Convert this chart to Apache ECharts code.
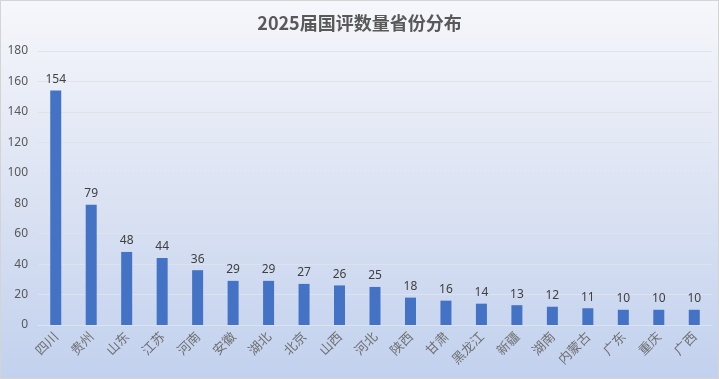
<!DOCTYPE html>
<html>
<head>
<meta charset="utf-8">
<script src="https://cdn.jsdelivr.net/npm/echarts@6/dist/echarts.min.js"></script>
<style>
html,body{margin:0;padding:0;background:#fff;}
#chart{width:717px;height:377px;border:1px solid #d4d4d4;}
</style>
</head>
<body>
<div id="chart"></div>
<script>
// 各省份国评数量
const provinces = ['四川','贵州','山东','江苏','河南','安徽','湖北','北京','山西','河北','陕西','甘肃','黑龙江','新疆','湖南','内蒙古','广东','重庆','广西'];
const counts = [154,79,48,44,36,29,29,27,26,25,18,16,14,13,12,11,10,10,10];
const yTicks = [0,20,40,60,80,100,120,140,160,180];

const chart = echarts.init(document.getElementById('chart'));
chart.setOption({
  animation: false,
  backgroundColor: new echarts.graphic.LinearGradient(0,0,0,1,[
    {offset:0,color:'#f6f7fb'},
    {offset:0.5,color:'#dce3f3'},
    {offset:1,color:'#c2d1ee'}
  ]),
  title: {
    text: '2025届国评数量省份分布',
    left: 'center',
    top: 8,
    textStyle: {fontSize: 18, fontWeight: 'bold', color: '#595959', fontFamily: 'Noto Sans CJK SC'}
  },
  grid: {left: 37, right: 6, top: 50, bottom: 53},
  xAxis: {
    type: 'category',
    data: provinces,
    axisLine: {lineStyle: {color: '#dde3ee'}},
    axisTick: {show: false},
    axisLabel: {rotate: 45, interval: 0, color: '#707070', fontSize: 13, fontFamily: 'Noto Sans CJK SC', margin: 9}
  },
  yAxis: {
    type: 'value',
    min: yTicks[0],
    max: yTicks[yTicks.length-1],
    interval: 20,
    axisLine: {show: false},
    axisTick: {show: false},
    axisLabel: {color: '#595959', fontSize: 12, fontFamily: 'Noto Sans', margin: 10},
    splitLine: {lineStyle: {color: '#dde2ec'}}
  },
  series: [{
    type: 'bar',
    data: counts,
    barWidth: 11,
    itemStyle: {color: '#4472c4'},
    label: {show: true, position: 'top', color: '#404040', fontSize: 12, fontFamily: 'Noto Sans', distance: 5}
  }]
});
</script>
</body>
</html>
